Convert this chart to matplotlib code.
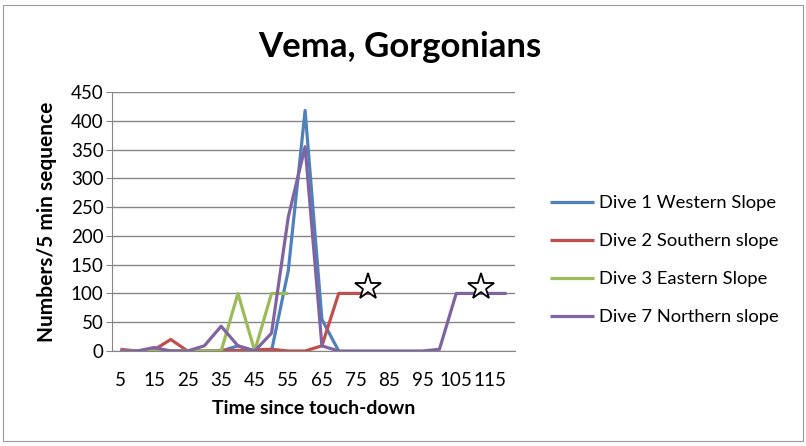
import numpy as np
import matplotlib
matplotlib.use("Agg")
import matplotlib.pyplot as plt
from matplotlib.patches import Rectangle

plt.rcParams['font.family'] = ['Lato', 'DejaVu Sans']

# Time since touch-down (minutes), one category every 5 min
times = [5, 10, 15, 20, 25, 30, 35, 40, 45, 50, 55, 60,
         65, 70, 75, 80, 85, 90, 95, 100, 105, 110, 115, 120]

dive1_western = [0, 0, 0, 0, 0, 0, 0, 9, 0, 0, 140, 418, 55, 0]
dive2_southern = [3, 0, 2, 20, 0, 0, 1, 1, 2, 3, 0, 0, 9, 100, 100, 100]
dive3_eastern = [0, 0, 0, 0, 0, 0, 0, 100, 0, 100, 100]
dive7_northern = [0, 0, 6, 0, 0, 9, 43, 9, 0, 31, 233, 355, 9,
                  0, 0, 0, 0, 0, 0, 3, 100, 100, 100, 100]

series = [
    ("Dive 1 Western Slope", dive1_western, "#4F81BD"),
    ("Dive 2 Southern slope", dive2_southern, "#C0504D"),
    ("Dive 3 Eastern Slope", dive3_eastern, "#9BBB59"),
    ("Dive 7 Northern slope", dive7_northern, "#8064A2"),
]

# Star callouts (category position, value)
star_pos = [14.75, 21.5]
star_val = [111, 111]

y_ticks = list(range(0, 451, 50))

W, H = 806, 446
fig = plt.figure(figsize=(W / 100, H / 100), dpi=100)
fig.patch.set_facecolor("white")
fig.add_artist(Rectangle((3 / W, 5 / H), 800 / W, 436 / H, transform=fig.transFigure,
                         fill=False, edgecolor="#9a9a9a", linewidth=0.8))

ax = fig.add_axes([112 / W, 1 - 351 / H, (515 - 112) / W, (351 - 92) / H])

for name, vals, col in series:
    ax.plot(np.arange(len(vals)), vals, color=col, linewidth=2.3, label=name,
            solid_joinstyle="round", solid_capstyle="butt", zorder=3)

ax.plot(star_pos, star_val, linestyle="none", marker="*", markersize=20,
        markerfacecolor="white", markeredgecolor="black", markeredgewidth=1.3, zorder=5)

ax.set_xlim(-0.5, len(times) - 0.5)
ax.set_ylim(0, 450)
ax.set_yticks(y_ticks)
ax.set_yticklabels([str(v) for v in y_ticks], fontsize=13.5)
ax.set_xticks(np.arange(0, len(times), 2))
ax.set_xticklabels([str(t) for t in times[::2]], fontsize=13.5)
ax.tick_params(axis="x", length=0, pad=15)
ax.tick_params(axis="y", length=4, pad=2, color="#868686", direction="out")

ax.yaxis.grid(True, color="#868686", linewidth=1.0)
ax.set_axisbelow(True)
for s in ["top", "right"]:
    ax.spines[s].set_visible(False)
ax.spines["left"].set_color("#868686")
ax.spines["bottom"].set_color("#868686")

ax.set_xlabel("Time since touch-down", fontsize=14, fontweight="bold", labelpad=8)
ax.set_ylabel("Numbers/5 min sequence", fontsize=15, fontweight="bold", labelpad=10)

fig.text(400 / W, 1 - 47 / H, "Vema, Gorgonians", fontsize=25, fontweight="bold",
         ha="center", va="center")

leg = fig.legend(loc="center left", bbox_to_anchor=(533 / W, 1 - 260 / H), frameon=False,
                 fontsize=13.2, handlelength=2.4, labelspacing=1.2, handletextpad=0.3)

fig.savefig("out.png", dpi=100)
